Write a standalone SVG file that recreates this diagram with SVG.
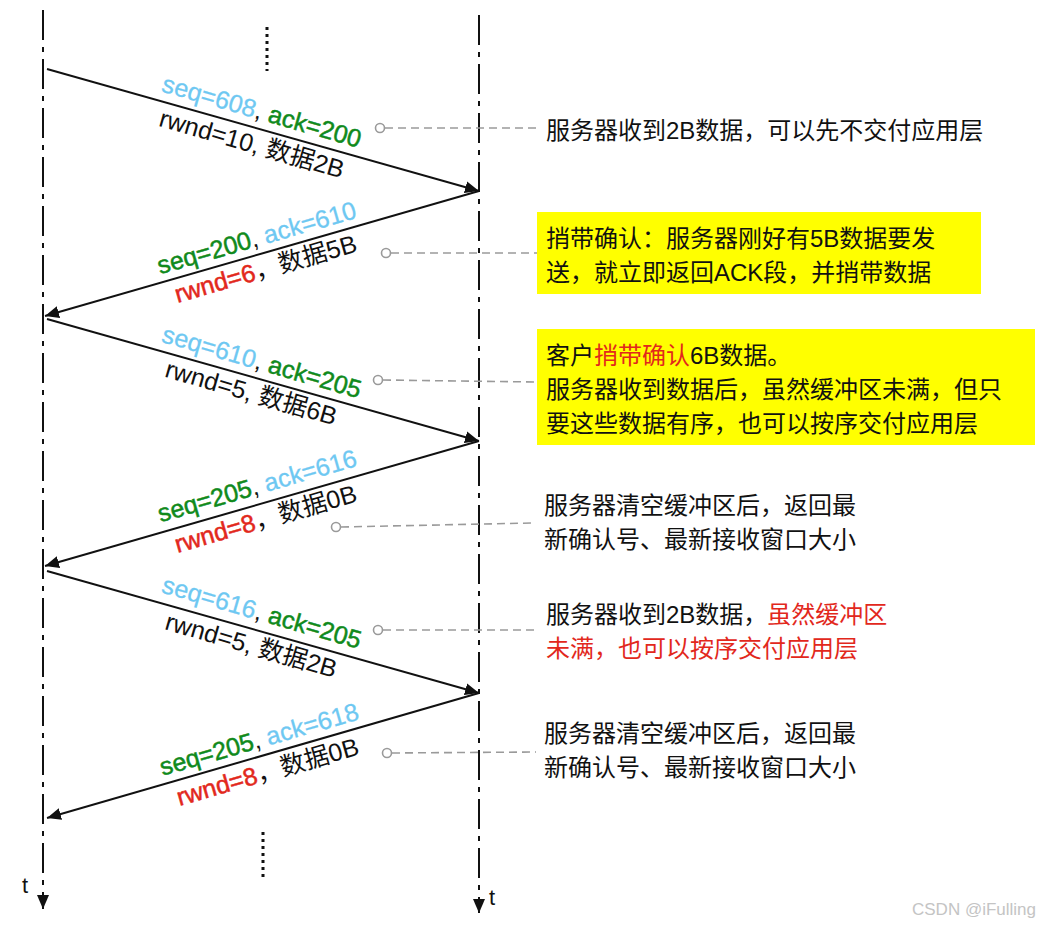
<svg xmlns="http://www.w3.org/2000/svg" width="1054" height="926" viewBox="0 0 1054 926">
<defs>
<style>
.life{stroke:#111;stroke-width:2;fill:none;stroke-dasharray:30 7 5 7}
.msg{stroke:#111;stroke-width:2;fill:none}
.dots{stroke:#111;stroke-width:3;stroke-dasharray:3 4;fill:none}
.conn{stroke:#9a9a9a;stroke-width:1.6;stroke-dasharray:8 5;fill:none}
.pin{stroke:#9a9a9a;stroke-width:1.6;fill:#fff}
.lab{font-family:"Liberation Sans","Noto Sans CJK SC",sans-serif;font-size:25px;fill:#111}
.note{font-family:"Liberation Sans","Noto Sans CJK SC",sans-serif;font-size:24px;fill:#111}
.blue{fill:#6ec8f2;stroke:#6ec8f2;stroke-width:0.3}
.green{fill:#108a1c;stroke:#108a1c;stroke-width:0.5}
.red{fill:#e2281c;stroke:#e2281c;stroke-width:0.5}
.rednote{fill:#e2281c}
.box{fill:#ffff00}
.t{font-family:"Liberation Sans",sans-serif;font-size:22px;fill:#111}
.wm{font-family:"Liberation Sans",sans-serif;font-size:17px;fill:#c4c4c4}
</style>
<marker id="ah" markerUnits="userSpaceOnUse" markerWidth="16" markerHeight="13" refX="14" refY="6.5" orient="auto">
<path d="M0,0.5 L14,6.5 L0,12.5 Z" fill="#111"/>
</marker>
</defs>

<g id="lifelines">
<line class="life" x1="43" y1="10" x2="43" y2="894"/>
<line class="life" x1="479" y1="15" x2="479" y2="898"/>
<line x1="43" y1="893" x2="43" y2="909" stroke="#111" stroke-width="2" marker-end="url(#ah)"/>
<line x1="479" y1="897" x2="479" y2="913" stroke="#111" stroke-width="2" marker-end="url(#ah)"/>
<text class="t" x="22" y="893">t</text>
<text class="t" x="489" y="905">t</text>
<line class="dots" x1="267" y1="27" x2="267" y2="71"/>
<line class="dots" x1="263" y1="832" x2="263" y2="877"/>
</g>

<g id="connectors">
<line class="msg" x1="47" y1="69" x2="479" y2="191" marker-end="url(#ah)"/>
<line class="msg" x1="479" y1="191" x2="45" y2="316" marker-end="url(#ah)"/>
<line class="msg" x1="47" y1="319" x2="479" y2="441" marker-end="url(#ah)"/>
<line class="msg" x1="479" y1="441" x2="45" y2="566" marker-end="url(#ah)"/>
<line class="msg" x1="47" y1="571" x2="479" y2="693" marker-end="url(#ah)"/>
<line class="msg" x1="479" y1="693" x2="47" y2="818" marker-end="url(#ah)"/>

<line class="conn" x1="385" y1="128" x2="540" y2="128"/>
<circle class="pin" cx="380" cy="128" r="4.5"/>
<line class="conn" x1="391" y1="253" x2="537" y2="253"/>
<circle class="pin" cx="386" cy="253" r="4.5"/>
<line class="conn" x1="383" y1="380" x2="537" y2="382"/>
<circle class="pin" cx="378" cy="380" r="4.5"/>
<line class="conn" x1="341" y1="527" x2="532" y2="523"/>
<circle class="pin" cx="336" cy="527" r="4.5"/>
<line class="conn" x1="383" y1="630" x2="538" y2="630"/>
<circle class="pin" cx="378" cy="630" r="4.5"/>
<line class="conn" x1="392" y1="753" x2="536" y2="752"/>
<circle class="pin" cx="387" cy="753" r="4.5"/>
</g>

<g id="msg1-label">
<text class="lab" text-anchor="middle" transform="translate(259.5,119.5) rotate(16)"><tspan class="blue">seq=608</tspan>, <tspan class="green">ack=200</tspan></text>
<text class="lab" text-anchor="middle" transform="translate(249.5,152) rotate(16)">rwnd=10, 数据2B</text>
</g>
<g id="msg2-label">
<text class="lab" text-anchor="middle" transform="translate(259,246) rotate(-16)"><tspan class="green">seq=200</tspan>, <tspan class="blue">ack=610</tspan></text>
<text class="lab" text-anchor="middle" transform="translate(268,277) rotate(-16)"><tspan class="red">rwnd=6</tspan>，数据5B</text>
</g>
<g id="msg3-label">
<text class="lab" text-anchor="middle" transform="translate(259.5,370) rotate(16)"><tspan class="blue">seq=610</tspan>, <tspan class="green">ack=205</tspan></text>
<text class="lab" text-anchor="middle" transform="translate(249,401) rotate(16)">rwnd=5, 数据6B</text>
</g>
<g id="msg4-label">
<text class="lab" text-anchor="middle" transform="translate(259.5,494) rotate(-16)"><tspan class="green">seq=205</tspan>, <tspan class="blue">ack=616</tspan></text>
<text class="lab" text-anchor="middle" transform="translate(268,527) rotate(-16)"><tspan class="red">rwnd=8</tspan>，数据0B</text>
</g>
<g id="msg5-label">
<text class="lab" text-anchor="middle" transform="translate(259.5,620.5) rotate(16)"><tspan class="blue">seq=616</tspan>, <tspan class="green">ack=205</tspan></text>
<text class="lab" text-anchor="middle" transform="translate(249,653.5) rotate(16)">rwnd=5, 数据2B</text>
</g>
<g id="msg6-label">
<text class="lab" text-anchor="middle" transform="translate(261.5,747.5) rotate(-16)"><tspan class="green">seq=205</tspan>, <tspan class="blue">ack=618</tspan></text>
<text class="lab" text-anchor="middle" transform="translate(270,780) rotate(-16)"><tspan class="red">rwnd=8</tspan>，数据0B</text>
</g>

<g id="note1">
<text class="note" x="546" y="139">服务器收到2B数据，可以先不交付应用层</text>
</g>
<g id="note2">
<rect class="box" x="537" y="212" width="444" height="82"/>
<text class="note" x="546" y="247">捎带确认：服务器刚好有5B数据要发</text>
<text class="note" x="546" y="281">送，就立即返回ACK段，并捎带数据</text>
</g>
<g id="note3">
<rect class="box" x="537" y="329" width="498" height="116"/>
<text class="note" x="546" y="364">客户<tspan class="rednote">捎带确认</tspan>6B数据。</text>
<text class="note" x="546" y="398">服务器收到数据后，虽然缓冲区未满，但只</text>
<text class="note" x="546" y="432">要这些数据有序，也可以按序交付应用层</text>
</g>
<g id="note4">
<text class="note" x="544" y="514">服务器清空缓冲区后，返回最</text>
<text class="note" x="544" y="548">新确认号、最新接收窗口大小</text>
</g>
<g id="note5">
<text class="note" x="546" y="623">服务器收到2B数据，<tspan class="rednote">虽然缓冲区</tspan></text>
<text class="note rednote" x="546" y="657">未满，也可以按序交付应用层</text>
</g>
<g id="note6">
<text class="note" x="544" y="742">服务器清空缓冲区后，返回最</text>
<text class="note" x="544" y="776">新确认号、最新接收窗口大小</text>
</g>

<text class="wm" x="912" y="915">CSDN @iFulling</text>
</svg>
